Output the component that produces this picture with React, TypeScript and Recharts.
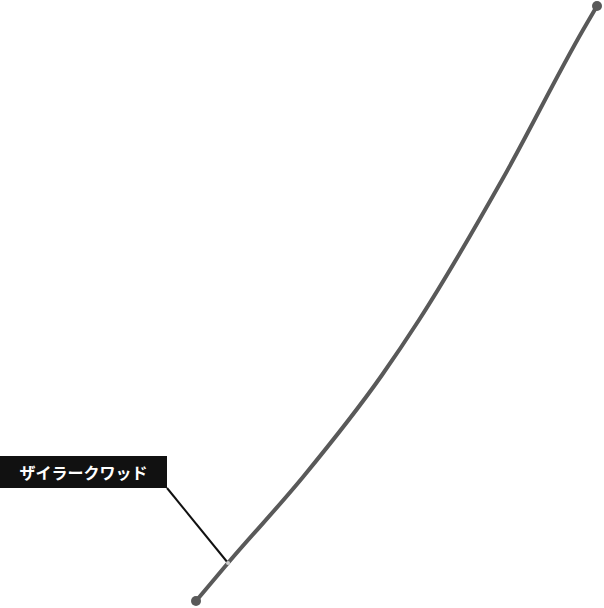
import React from "react";
import { LineChart, Line, XAxis, YAxis } from "recharts";

const xValues = [19.6, 22.8, 30.3, 38.2, 41.9, 50.2, 58.3, 59.7];
const yValues = [0.7, 4.5, 13.1, 23.3, 28.8, 42.8, 57.8, 60.2];
const labelText = "ザイラークワッド";
const labelIndex = 1;

const data = xValues.map((x, i) => ({ x, y: yValues[i] }));

const LINE_COLOR = "#595959";

const renderDot = (props: any) => {
  const { cx, cy, index } = props;
  const last = data.length - 1;
  if (index === 0 || index === last) {
    return <circle key={`d${index}`} cx={cx} cy={cy} r={5} fill={LINE_COLOR} stroke="none" />;
  }
  if (index === labelIndex) {
    const bx = cx - 61;
    const by = cy - 75;
    const bw = 167;
    const bh = 32;
    return (
      <g key={`d${index}`}>
        <line x1={bx} y1={by} x2={cx} y2={cy} stroke="#111" strokeWidth={2} />
        <circle cx={cx} cy={cy} r={2} fill="#cfcfcf" stroke="none" />
        <rect x={bx - bw} y={by - bh} width={bw} height={bh} fill="#111111" />
        <text
          x={bx - bw / 2}
          y={by - bh / 2}
          textAnchor="middle"
          dominantBaseline="central"
          fill="#ffffff"
          fontWeight="bold"
          fontSize={16}
          fontFamily="'Noto Sans CJK JP', 'Noto Sans', sans-serif"
        >
          {labelText}
        </text>
      </g>
    );
  }
  return <g key={`d${index}`} />;
};

export default function App() {
  return (
    <div style={{ position: "absolute", left: 0, top: 0, width: 604, height: 608, background: "#fff" }}>
      <LineChart width={604} height={608} data={data} margin={{ top: 0, right: 0, bottom: 0, left: 0 }}>
        <XAxis dataKey="x" type="number" domain={[0, 60.4]} hide />
        <YAxis type="number" domain={[0, 60.8]} hide />
        <Line
          dataKey="y"
          type="monotone"
          stroke={LINE_COLOR}
          strokeWidth={4}
          dot={renderDot}
          activeDot={false}
          isAnimationActive={false}
        />
      </LineChart>
    </div>
  );
}
